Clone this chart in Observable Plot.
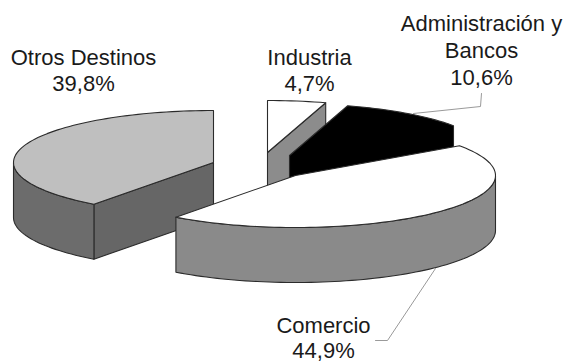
<!DOCTYPE html>
<html lang="es">
<head>
<meta charset="utf-8">
<script src="https://cdn.jsdelivr.net/npm/d3@7"></script>
<script src="https://cdn.jsdelivr.net/npm/@observablehq/plot@0.6"></script>
<style>
  html, body { margin: 0; padding: 0; background: #fff; }
  svg { display: block; }
</style>
</head>
<body>
<div id="chart"></div>
<script>
// Destination shares, clockwise from twelve o'clock.
const sectors = ["Industria", "Administración y Bancos", "Comercio", "Otros Destinos"];
const shares = [4.7, 10.6, 44.9, 39.8];

// Label text, one row per line of text.
const labelLines = [["Industria"], ["Administración y", "Bancos"], ["Comercio"], ["Otros Destinos"]];

// Projection of the tilted, exploded pie.
const radiusX = 200, radiusY = 52, depth = 55;
const hubs = [[267, 152], [289, 155], [295, 175], [213, 162]];
const labelAnchors = [[309, 57], [481, 23], [323, 325], [83, 57]];
const lineGap = [26, 27, 25, 26];
const leaders = [
  [[413, 113], [480, 106], [481, 93]],
  [[435, 268], [387, 340], [375, 340]]
];

const TAU = Math.PI * 2;
const ends = d3.cumsum(shares).map(v => v / d3.sum(shares) * TAU);
const starts = [0, ...ends.slice(0, -1)];

// Point on the rim of a slice, with angle measured clockwise from north.
const rim = (hub, a, drop = 0) => ({
  x: hub[0] + radiusX * Math.sin(a),
  y: hub[1] - radiusY * Math.cos(a) + drop
});
const arc = (hub, a0, a1, drop = 0) => {
  const n = Math.max(2, Math.ceil(Math.abs(a1 - a0) / 0.03));
  return d3.range(n + 1).map(i => rim(hub, a0 + (a1 - a0) * i / n, drop));
};
const at = (hub, drop = 0) => ({x: hub[0], y: hub[1] + drop});
const closed = pts => [...pts, pts[0]];

const polygon = (points, fill) =>
  Plot.line(closed(points), {
    x: "x", y: "y", fill, stroke: "#2b2b2b", strokeWidth: 1.1, strokeLinejoin: "round"
  });

const [ind, adm, com, otr] = [0, 1, 2, 3];

const marks = [
  // Otros Destinos: radial wall, outer wall, top face
  polygon([at(hubs[otr]), rim(hubs[otr], starts[otr]), rim(hubs[otr], starts[otr], depth), at(hubs[otr], depth)], "#666666"),
  polygon([...arc(hubs[otr], starts[otr], TAU * 0.75), ...arc(hubs[otr], TAU * 0.75, starts[otr], depth)], "#6c6c6c"),
  polygon([at(hubs[otr]), ...arc(hubs[otr], starts[otr], ends[otr])], "#bfbfbf"),

  // Industria: cut wall and top face
  polygon([at(hubs[ind]), rim(hubs[ind], ends[ind]), rim(hubs[ind], ends[ind], depth), at(hubs[ind], depth)], "#8c8c8c"),
  polygon([at(hubs[ind]), ...arc(hubs[ind], starts[ind], ends[ind])], "#ffffff"),

  // Administración y Bancos: solid black silhouette
  polygon([at(hubs[adm]), ...arc(hubs[adm], starts[adm], ends[adm]), rim(hubs[adm], ends[adm], depth), at(hubs[adm], depth)], "#000000"),

  // Comercio: outer wall and top face
  polygon([...arc(hubs[com], TAU * 0.25, ends[com]), ...arc(hubs[com], ends[com], TAU * 0.25, depth)], "#8a8a8a"),
  polygon([at(hubs[com]), ...arc(hubs[com], starts[com], ends[com])], "#ffffff"),

  // Leader lines
  ...leaders.map(points => Plot.line(points, {x: d => d[0], y: d => d[1], stroke: "#9a9a9a", strokeWidth: 1})),

  // Labels: name lines followed by the share
  Plot.text(
    sectors.flatMap((_, i) => {
      const rows = [...labelLines[i], shares[i].toFixed(1).replace(".", ",") + "%"];
      return rows.map((text, r) => ({
        text,
        x: labelAnchors[i][0],
        y: labelAnchors[i][1] + r * lineGap[i]
      }));
    }),
    {x: "x", y: "y", text: "text", fontSize: 22, fill: "#1a1a1a", textAnchor: "middle"}
  )
];

const plot = Plot.plot({
  width: 565,
  height: 362,
  margin: 0,
  x: {domain: [0, 565], range: [0, 565], axis: null},
  y: {domain: [0, 362], range: [0, 362], axis: null},
  style: {fontFamily: "'Liberation Sans', Arial, sans-serif", background: "#fff"},
  marks
});
document.getElementById("chart").append(plot);
</script>
</body>
</html>
